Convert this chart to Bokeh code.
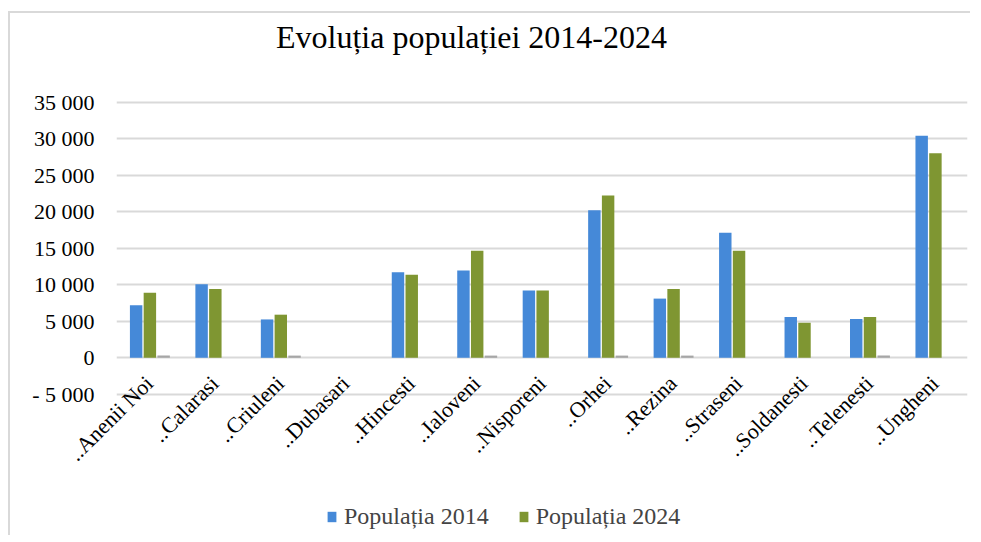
import math
from bokeh.plotting import figure
from bokeh.models import (ColumnDataSource, FactorRange, Range1d, FixedTicker,
                          Legend, LegendItem, Label)
from bokeh.transform import dodge
from bokeh.embed import file_html
from bokeh.resources import INLINE

# ---- data ----
categories = ["..Anenii Noi", "..Calarasi", "..Criuleni", "..Dubasari", "..Hincesti",
              "..Ialoveni", "..Nisporeni", "..Orhei", "..Rezina", "..Straseni",
              "..Soldanesti", "..Telenesti", "..Ungheni"]
pop_2014 = [7200, 10050, 5250, 0, 11700, 11950, 9200, 20200, 8100, 17100, 5600, 5300, 30400]
pop_2024 = [8900, 9400, 5900, 0, 11350, 14650, 9200, 22200, 9400, 14650, 4800, 5600, 28000]
pop_other = [300, 0, 300, 0, 0, 300, 0, 300, 300, 0, 0, 300, 0]
y_ticks = [-5000, 0, 5000, 10000, 15000, 20000, 25000, 30000, 35000]
y_tick_labels = ["- 5 000", "0", "5 000", "10 000", "15 000", "20 000", "25 000", "30 000", "35 000"]
series_names = ["Populația 2014", "Populația 2024"]
title_text = "Evoluția populației 2014-2024"

FONT = "Liberation Serif"
BLUE = "#4589d8"
GREEN = "#7f9632"
GRAY = "#a6a6a6"

src = ColumnDataSource(dict(cat=categories, a=pop_2014, b=pop_2024, c=pop_other))

# frame spans the whole chart area; the visible scale is -5 000 .. 35 000 (gridlines)
p = figure(width=962, height=524, x_range=FactorRange(*categories),
           y_range=Range1d(-24050, 46850), output_backend="svg", toolbar_location=None,
           title=None,
           min_border_left=106, min_border_right=5, min_border_top=2, min_border_bottom=4)
p.styles = {"border-top": "2px solid #d9d9d9", "border-left": "2px solid #d9d9d9",
            "margin-top": "11px", "margin-left": "8px"}

r1 = p.vbar(x=dodge("cat", -0.20, range=p.x_range), top="a", width=0.19, source=src,
            fill_color=BLUE, line_color=None)
r2 = p.vbar(x=dodge("cat", 0.01, range=p.x_range), top="b", width=0.19, source=src,
            fill_color=GREEN, line_color=None)
r3 = p.vbar(x=dodge("cat", 0.22, range=p.x_range), top="c", width=0.19, source=src,
            fill_color=GRAY, line_color=None)

# title
p.add_layout(Label(x=355, y=497, x_units="screen", y_units="screen", text=title_text,
                   text_font=FONT, text_font_size="32px", text_color="black",
                   text_align="center", text_baseline="middle"))

# y axis
p.yaxis.ticker = FixedTicker(ticks=y_ticks)
p.yaxis.major_label_overrides = {t: l for t, l in zip(y_ticks, y_tick_labels)}
p.yaxis.axis_line_color = None
p.yaxis.major_tick_line_color = None
p.yaxis.minor_tick_line_color = None
p.yaxis.major_label_text_font = FONT
p.yaxis.major_label_text_font_size = "22px"
p.yaxis.major_label_text_color = "black"
p.yaxis.major_label_standoff = 16

# x axis: labels pulled up to sit just under the zero line, rotated 45 degrees
p.xaxis.axis_line_color = None
p.xaxis.major_tick_line_color = None
p.xaxis.minor_tick_line_color = None
p.xaxis.major_label_orientation = math.pi / 4
p.xaxis.major_label_text_font = FONT
p.xaxis.major_label_text_font_size = "22px"
p.xaxis.major_label_text_color = "black"
p.xaxis.major_label_standoff = -160

p.xgrid.grid_line_color = None
p.ygrid.grid_line_color = "#d9d9d9"
p.ygrid.grid_line_width = 2
p.outline_line_color = None

legend = Legend(items=[LegendItem(label=series_names[0], renderers=[r1]),
                       LegendItem(label=series_names[1], renderers=[r2])],
                orientation="horizontal", location=(210, 3),
                label_text_font=FONT, label_text_font_size="24px",
                glyph_width=11, glyph_height=13, label_standoff=7, spacing=29,
                border_line_color=None, background_fill_alpha=0, margin=0, padding=4)
p.add_layout(legend, "center")

open("out.html", "w").write(file_html(p, INLINE))
